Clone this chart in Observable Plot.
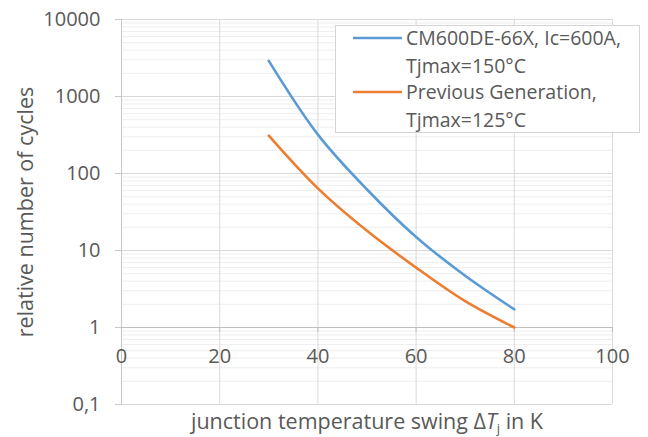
<!DOCTYPE html>
<html>
<head>
<meta charset="utf-8">
<script src="https://cdn.jsdelivr.net/npm/d3@7"></script>
<script src="https://cdn.jsdelivr.net/npm/@observablehq/plot@0.6"></script>
<style>
  html, body { margin: 0; padding: 0; background: #ffffff; }
  #chart { position: relative; width: 648px; height: 437px; }
</style>
</head>
<body>
<div id="chart"></div>
<script>
// Junction temperature swing (K) at which the cycle counts are given
const deltaTj = [30, 40, 50, 60, 70, 80];
// Relative number of power cycles, CM600DE-66X (Ic = 600 A, Tjmax = 150 °C)
const cyclesCM600 = [2900, 320, 62, 15, 4.7, 1.72];
// Relative number of power cycles, previous generation (Tjmax = 125 °C)
const cyclesPrevGen = [310, 64, 18, 6.0, 2.2, 1.0];

const seriesNames = ["CM600DE-66X, Ic=600A,|Tjmax=150°C", "Previous Generation,|Tjmax=125°C"];
const seriesColors = ["#5B9BD5", "#ED7D31"];

const xTicks = [0, 20, 40, 60, 80, 100];
const yTicks = [0.1, 1, 10, 100, 1000, 10000];
const yTickLabels = ["0,1", "1", "10", "100", "1000", "10000"];
const xAxisCrossesAt = 1;

const xTitle = "junction temperature swing ΔTj in K";
const yTitle = "relative number of cycles";

const textColor = "#595959";
const fontFamily = "'Open Sans', Lato, sans-serif";
const tickFontSize = 20;
const titleFontSize = 21.5;
const legendFontSize = 19.5;

const rows = [
  ...deltaTj.map((t, i) => ({t, n: cyclesCM600[i], series: seriesNames[0]})),
  ...deltaTj.map((t, i) => ({t, n: cyclesPrevGen[i], series: seriesNames[1]}))
];
const yLabelOf = new Map(yTicks.map((v, i) => [v, yTickLabels[i]]));

const plot = Plot.plot({
  width: 648,
  height: 437,
  marginLeft: 121,
  marginRight: 36,
  marginTop: 19,
  marginBottom: 33,
  style: {background: "#ffffff", fontFamily},
  x: {domain: [0, 100]},
  y: {type: "log", domain: [0.1, 10000]},
  color: {domain: seriesNames, range: seriesColors},
  marks: [
    // minor logarithmic grid
    Plot.gridY({ticks: 40, stroke: "#eeeeee", strokeOpacity: 1}),
    // major grid
    Plot.gridY({ticks: yTicks, stroke: "#d9d9d9", strokeOpacity: 1}),
    Plot.gridX({ticks: xTicks, stroke: "#d9d9d9", strokeOpacity: 1}),
    Plot.ruleX([0], {stroke: "#c8c8c8"}),
    // horizontal axis line crossing at y = 1
    Plot.ruleY([xAxisCrossesAt], {stroke: "#bfbfbf", strokeWidth: 1.2}),
    Plot.ruleX(xTicks, {x: d => d, y1: () => xAxisCrossesAt, y2: () => xAxisCrossesAt, insetBottom: -5, stroke: "#bfbfbf"}),
    Plot.axisY({
      ticks: yTicks,
      tickFormat: d => yLabelOf.get(d),
      tickSize: 6,
      tickPadding: 15,
      stroke: "#c8c8c8",
      fill: textColor,
      fontSize: tickFontSize,
      label: null
    }),
    Plot.axisX({ticks: [], label: null}),
    Plot.text(xTicks, {
      x: d => d,
      y: () => xAxisCrossesAt,
      dy: 29,
      text: d => String(d),
      fill: textColor,
      fontSize: tickFontSize
    }),
    // data curves
    Plot.line(rows, {
      x: "t",
      y: "n",
      stroke: "series",
      strokeWidth: 2.6,
      curve: "catmull-rom"
    }),
    // axis titles
    Plot.text([yTitle], {
      frameAnchor: "left",
      textAnchor: "middle",
      dx: -95,
      rotate: -90,
      fill: textColor,
      fontSize: titleFontSize
    }),
    Plot.text([xTitle], {
      frameAnchor: "bottom",
      dy: 24,
      fill: textColor,
      fontSize: titleFontSize
    })
  ]
});

const svg = d3.select(plot);

// Italic T with subscript j in the horizontal axis title
svg.selectAll("text").filter(function () { return this.textContent === xTitle; })
  .each(function () {
    const t = d3.select(this);
    t.text(null);
    t.append("tspan").text("junction temperature swing Δ");
    t.append("tspan").attr("font-style", "italic").text("T");
    t.append("tspan").attr("font-size", 13).attr("dy", 4).text("j");
    t.append("tspan").attr("dy", -4).text(" in K");
  });

// Legend box in the upper right corner
const legend = svg.append("g")
  .attr("font-size", legendFontSize)
  .attr("font-family", fontFamily)
  .attr("text-anchor", "start")
  .attr("fill", textColor);
legend.append("rect")
  .attr("x", 335.5).attr("y", 25.5).attr("width", 304).attr("height", 107)
  .attr("fill", "#ffffff").attr("stroke", "#d4d4d4");
seriesNames.forEach((name, i) => {
  const y0 = 38 + i * 54;
  legend.append("line")
    .attr("x1", 353).attr("x2", 402).attr("y1", y0).attr("y2", y0)
    .attr("stroke", seriesColors[i]).attr("stroke-width", 2.6);
  name.split("|").forEach((line, j) => {
    legend.append("text")
      .attr("x", 406).attr("y", y0 + j * 28)
      .attr("dy", "0.35em")
      .text(line);
  });
});

document.getElementById("chart").appendChild(plot);
</script>
</body>
</html>
